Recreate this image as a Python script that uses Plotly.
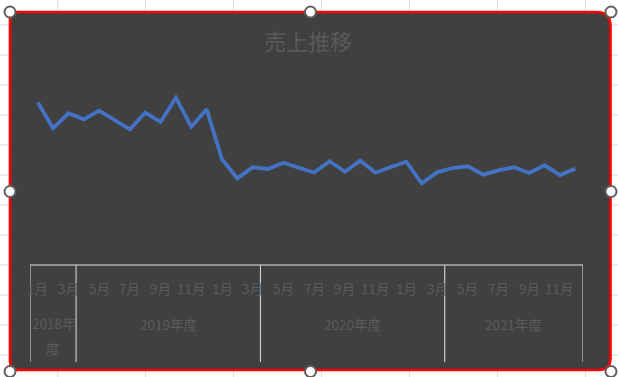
import plotly.graph_objects as go

# ---------------- data ----------------
title_text = "売上推移"
fiscal_years = ["2018年度", "2019年度", "2020年度", "2021年度"]
months_per_year = [3, 12, 12, 9]
months = ["1月", "2月", "3月",
          "4月", "5月", "6月", "7月", "8月", "9月", "10月", "11月", "12月", "1月", "2月", "3月",
          "4月", "5月", "6月", "7月", "8月", "9月", "10月", "11月", "12月", "1月", "2月", "3月",
          "4月", "5月", "6月", "7月", "8月", "9月", "10月", "11月", "12月"]
sales = [1627, 1367, 1517, 1457, 1543, 1450, 1357, 1523, 1430, 1673, 1383, 1557,
         1057, 867, 977, 960, 1023, 973, 925, 1037, 933, 1043, 923, 980,
         1033, 817, 927, 970, 987, 903, 947, 977, 920, 997, 900, 963]

# ---------------- geometry helpers (pixel -> paper) ----------------
W, H = 618, 377
ML, MR, MT, MB = 30, 35, 60, 112
PW, PH = W - ML - MR, H - MT - MB


def px(x):
    return (x - ML) / PW


def py(y):
    return (H - MB - y) / PH


idx = list(range(len(sales)))

fig = go.Figure()
fig.add_trace(go.Scatter(x=idx, y=sales, mode="lines",
                         line=dict(color="#4472C4", width=3.8),
                         hoverinfo="skip", cliponaxis=False))

shapes = []
GRID = "#dadada"
# spreadsheet grid in background
for gx in [57.7, 145.5, 233.5, 321.5, 409.5, 497.5, 585.5]:
    shapes.append(dict(type="line", xref="paper", yref="paper", layer="below",
                       x0=px(gx), x1=px(gx), y0=py(0), y1=py(H),
                       line=dict(color=GRID, width=1)))
for gy in range(25, 377, 30):
    shapes.append(dict(type="line", xref="paper", yref="paper", layer="below",
                       x0=px(0), x1=px(W), y0=py(gy), y1=py(gy),
                       line=dict(color=GRID, width=1)))

# chart area: dark rounded rectangle with red border
L, T, R, B = 10, 12, 610.5, 370
rtl, rtr, rbr, rbl = 4, 14, 12, 9


def P(x, y):
    return f"{px(x):.5f},{py(y):.5f}"


path = (f"M {P(L + rtl, T)} L {P(R - rtr, T)} Q {P(R, T)} {P(R, T + rtr)} "
        f"L {P(R, B - rbr)} Q {P(R, B)} {P(R - rbr, B)} "
        f"L {P(L + rbl, B)} Q {P(L, B)} {P(L, B - rbl)} "
        f"L {P(L, T + rtl)} Q {P(L, T)} {P(L + rtl, T)} Z")
shapes.append(dict(type="path", xref="paper", yref="paper", layer="below",
                   path=path, fillcolor="#404040",
                   line=dict(color="#ff0000", width=2.6)))

# category axis box and dividers
AX = "#e4e4e4"
shapes.append(dict(type="line", xref="x", yref="paper", layer="below",
                   x0=-0.5, x1=len(sales) - 0.5, y0=0, y1=0,
                   line=dict(color=AX, width=1)))
bounds = [-0.5]
for n in months_per_year:
    bounds.append(bounds[-1] + n)
for b in bounds:
    shapes.append(dict(type="line", xref="x", yref="paper", layer="below",
                       x0=b, x1=b, y0=0, y1=py(362),
                       line=dict(color=AX, width=1)))

# selection handles
for (hx, hy) in [(10, 12), (310.5, 12), (611, 12), (10, 191.5), (611, 191.5),
                 (10, 371.5), (310.5, 371.5), (611, 371.5)]:
    r = 5.5
    shapes.append(dict(type="circle", xref="paper", yref="paper", layer="above",
                       x0=px(hx - r), x1=px(hx + r), y0=py(hy + r), y1=py(hy - r),
                       fillcolor="white", line=dict(color="#606060", width=2)))

annotations = []
LBL = "#5b5b5b"
FONT = "Noto Sans CJK JP"
# month labels every other point
for i in range(0, len(months), 2):
    annotations.append(dict(x=i, y=py(288), xref="x", yref="paper",
                            text=months[i], showarrow=False,
                            xanchor="center", yanchor="middle",
                            font=dict(family=FONT, size=13.5, color=LBL)))
# fiscal-year labels centered in their groups
for k, fy in enumerate(fiscal_years):
    cx = (bounds[k] + bounds[k + 1]) / 2
    if months_per_year[k] < 6:
        parts = [fy[:5], fy[5:]]
        ys = [323, 348]
    else:
        parts = [fy]
        ys = [324]
    for t, yy in zip(parts, ys):
        annotations.append(dict(x=cx, y=py(yy), xref="x", yref="paper",
                                text=t, showarrow=False,
                                xanchor="center", yanchor="middle",
                                font=dict(family=FONT, size=13.5, color=LBL)))

fig.update_layout(
    width=W, height=H,
    margin=dict(l=ML, r=MR, t=MT, b=MB, pad=0),
    paper_bgcolor="white", plot_bgcolor="rgba(0,0,0,0)",
    showlegend=False,
    title=dict(text=title_text, x=308 / W, y=1 - 42 / H,
               xanchor="center", yanchor="middle",
               font=dict(family=FONT, size=22, color="#5a5a5a")),
    xaxis=dict(range=[-0.5, len(sales) - 0.5], visible=False, fixedrange=True),
    yaxis=dict(range=[0, 2050], visible=False, fixedrange=True),
    shapes=shapes, annotations=annotations,
)

fig.write_html("out.html", config={"displayModeBar": False},
               post_script="document.body.style.margin='0';document.body.style.overflow='hidden';")
